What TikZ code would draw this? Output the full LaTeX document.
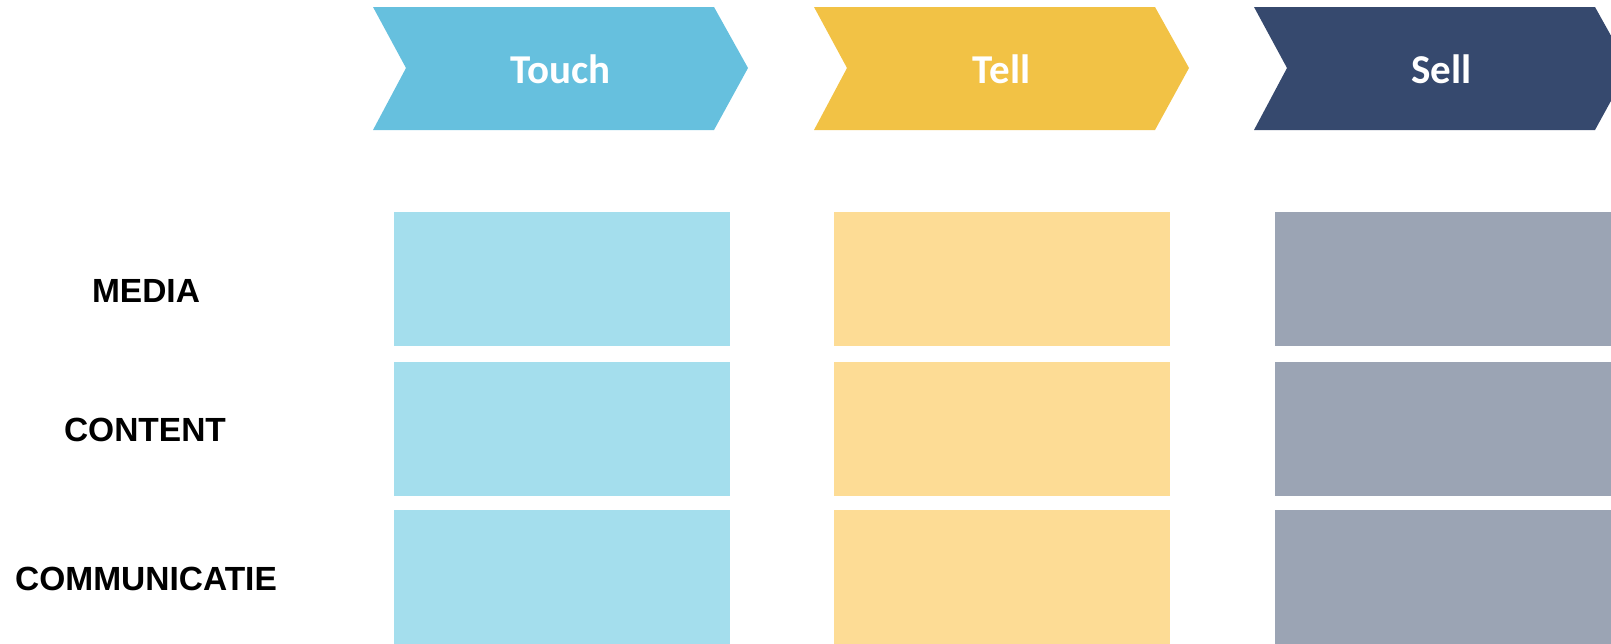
\documentclass[tikz,border=0pt]{standalone}
\usepackage{fontspec}
\newfontfamily\labfont{Liberation Sans}
\newfontfamily\chevfont{Carlito}
\definecolor{touchC}{RGB}{102,192,222}
\definecolor{touchB}{RGB}{164,222,237}
\definecolor{tellC}{RGB}{242,194,69}
\definecolor{tellB}{RGB}{253,220,149}
\definecolor{sellC}{RGB}{54,73,110}
\definecolor{sellB}{RGB}{155,164,180}
\tikzset{
  chevtext/.style={text=white,font=\chevfont\bfseries\fontsize{41}{44}\selectfont,inner sep=0pt},
  rowlabel/.style={font=\labfont\bfseries\fontsize{33.5}{36}\selectfont,inner sep=0pt},
  cell/.style={draw=white,line width=0.6pt,minimum width=337pt,inner sep=0pt,anchor=north west},
}
\begin{document}
\begin{tikzpicture}[x=1pt,y=-1pt]
\useasboundingbox (0,0) rectangle (1611,643);
\clip (0,0) rectangle (1611,643);
% chevrons
\foreach \x/\c/\t/\n in {373/touchC/Touch/touch,814/tellC/Tell/tell,1254/sellC/Sell/sell}{
  \fill[\c] (\x,7) -- ++(341,0) -- ++(34,61) -- ++(-34,62) -- ++(-341,0) -- ++(33,-62) -- cycle;
  \node[chevtext] (\n) at ({\x+187.5},69) {\t};
}
% cells
\foreach \x/\c/\n in {392.7/touchB/touch,833.3/tellB/tell,1274/sellB/sell}{
  \node[cell,fill=\c,minimum height=135.5pt] (\n1) at (\x,210.7) {};
  \node[cell,fill=\c,minimum height=135pt] (\n2) at (\x,360.7) {};
  \node[cell,fill=\c,minimum height=140pt] (\n3) at (\x,509.3) {};
}
% row labels
\node[rowlabel] (media) at (146,290.5) {MEDIA};
\node[rowlabel] (content) at (145,429.5) {CONTENT};
\node[rowlabel] (comm) at (146,579) {COMMUNICATIE};
\end{tikzpicture}
\end{document}
